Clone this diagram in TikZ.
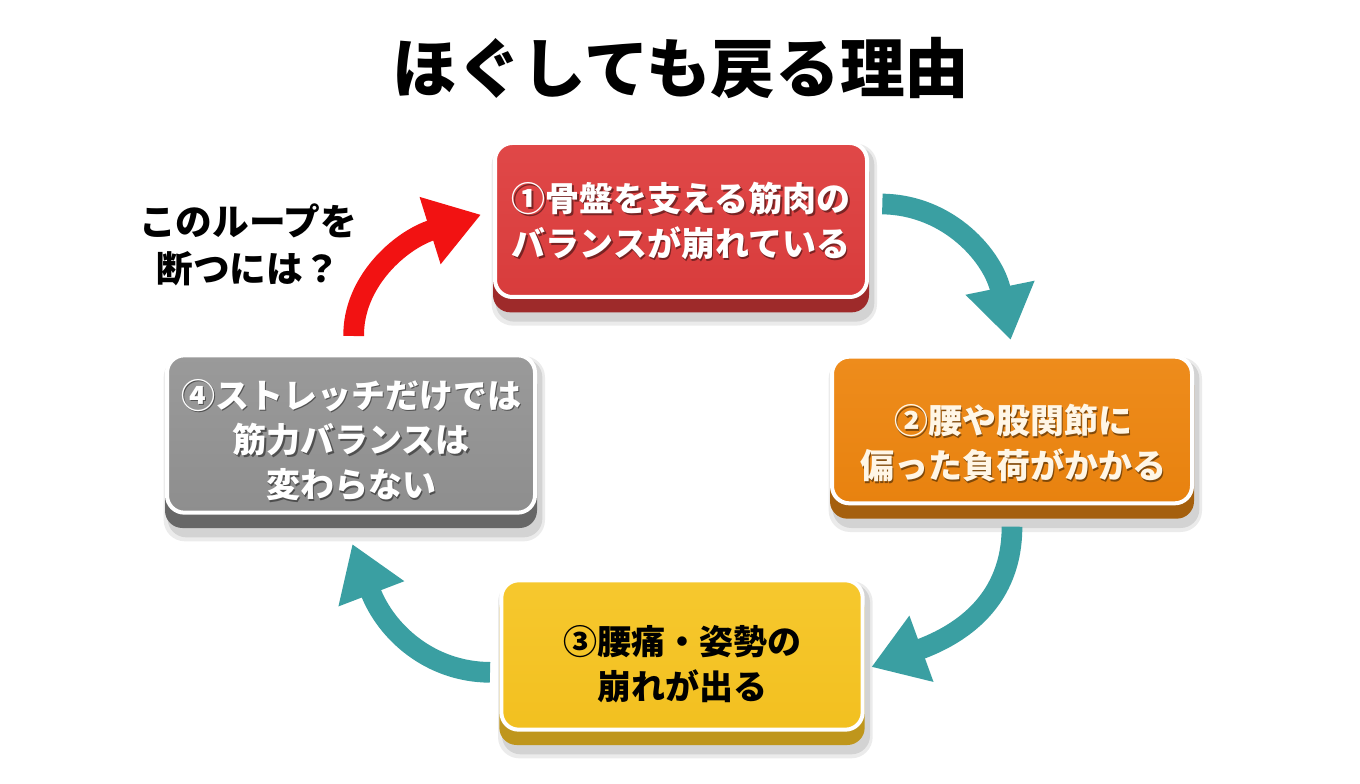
\documentclass[tikz,border=0pt]{standalone}
\usepackage{fontspec}
\setmainfont{Noto Sans CJK JP}
\usetikzlibrary{arrows.meta,backgrounds}
\definecolor{rface}{HTML}{D83C3C}
\definecolor{rfacetop}{HTML}{E04848}
\definecolor{rdark}{HTML}{9E2A2A}
\definecolor{oface}{HTML}{E8820F}
\definecolor{ofacetop}{HTML}{EE8C1C}
\definecolor{odark}{HTML}{A5600E}
\definecolor{yface}{HTML}{F2C020}
\definecolor{yfacetop}{HTML}{F6C82E}
\definecolor{ydark}{HTML}{BF961C}
\definecolor{gface}{HTML}{8E8E8E}
\definecolor{gfacetop}{HTML}{9A9A9A}
\definecolor{gdark}{HTML}{676767}
\definecolor{teal}{HTML}{3A9FA2}
\definecolor{loopred}{HTML}{F21212}
\definecolor{cream}{HTML}{FFF6E6}
\newcommand\shadowedtext[4]{%
  \node[boxtxt, text=black, opacity=.45] (#1s) at ([shift={(1.3pt,-1.3pt)}]#2) {#4};
  \node[boxtxt, text=#3] (#1) at (#2) {#4};}
\begin{document}
\begin{tikzpicture}[x=0.75pt,y=-0.75pt,
  face/.style={rounded corners=13pt, draw=white, line width=3pt, inner sep=0pt},
  boxtxt/.style={font=\bfseries\fontsize{25.5}{33.5}\selectfont, align=center, inner sep=0pt},
  curvy/.style={line width=15.5pt, -{Triangle[length=40pt,width=50pt]}},
  ]
\useasboundingbox (0,0) rectangle (1360,784);

% title
\node[font=\bfseries\fontsize{48.5}{56}\selectfont] (title) at (681,68) {ほぐしても戻る理由};

% boxes
\node[face, top color=rfacetop, bottom color=rface, minimum width=279pt, minimum height=115.5pt] (b1) at (681,220) {};
\node[face, top color=ofacetop, bottom color=oface, minimum width=270pt, minimum height=110pt] (b2) at (1012,430) {};
\node[face, top color=yfacetop, bottom color=yface, minimum width=271pt, minimum height=112pt] (b3) at (682,655) {};
\node[face, top color=gfacetop, bottom color=gface, minimum width=276pt, minimum height=118pt] (b4) at (351,434) {};

\begin{scope}[on background layer]
  \fill[white] (0,0) rectangle (1360,784);
  \foreach \b/\c in {b1/rdark, b2/odark, b3/ydark, b4/gdark}{
    \fill[black, opacity=.10, rounded corners=14pt] ([xshift=2pt,yshift=-17pt]\b.south west) rectangle ([xshift=4pt,yshift=-4pt]\b.north east);
    \fill[black, opacity=.08, rounded corners=16pt] ([xshift=-1pt,yshift=-20pt]\b.south west) rectangle ([xshift=6pt,yshift=-2pt]\b.north east);
    \fill[\c, rounded corners=13pt] ([yshift=-10pt]\b.south west) rectangle ([yshift=-10pt]\b.north east);
  }
\end{scope}

% texts
\shadowedtext{t1}{681,221}{white}{①骨盤を支える筋肉の\\バランスが崩れている}
\shadowedtext{t2}{1013,443}{cream}{②腰や股関節に\\偏った負荷がかかる}
\node[boxtxt, text=black] (t3) at (682,664) {③腰痛・姿勢の\\崩れが出る};
\shadowedtext{t4}{351,440}{white}{④ストレッチだけでは\\筋力バランスは\\変わらない}

% side question
\node[font=\bfseries\fontsize{27.5}{35}\selectfont, align=center] (q) at (248,245) {このループを\\断つには？};

% arrows
\coordinate (a1s) at ([xshift=10pt,yshift=12pt]b1.east);
\coordinate (a1e) at ([xshift=-1pt,yshift=11pt]b2.north);
\coordinate (a2s) at ([yshift=-16pt]b2.south);
\coordinate (a2e) at ([xshift=5pt,yshift=-9pt]b3.east);
\coordinate (a3s) at ([xshift=-7pt,yshift=-13pt]b3.west);
\coordinate (a3e) at ([xshift=1pt,yshift=-22pt]b4.south);
\coordinate (a4s) at ([xshift=2pt,yshift=13pt]b4.north);
\coordinate (a4e) at ([xshift=-9pt,yshift=4pt]b1.west);

\draw[curvy, teal] (a1s) .. controls (950,205) and (994,258) .. (a1e);
\draw[curvy, teal] (a2s) .. controls (1012,600) and (962,634) .. (a2e);
\draw[curvy, teal] (a3s) .. controls (430,672) and (386,632) .. (a3e);
\draw[curvy, loopred] (a4s) .. controls (353,282) and (400,240) .. (a4e);
\end{tikzpicture}
\end{document}
